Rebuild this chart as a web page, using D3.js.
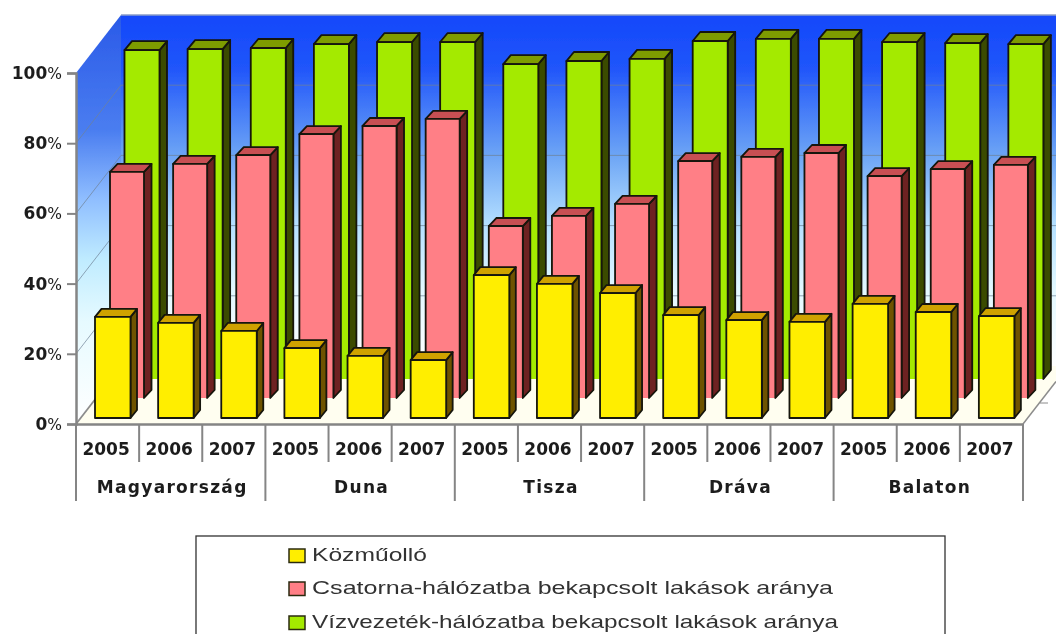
<!DOCTYPE html>
<html>
<head>
<meta charset="utf-8">
<script src="https://cdn.jsdelivr.net/npm/d3@7"></script>
<style>
html, body { margin: 0; padding: 0; background: #fff; overflow: hidden; }
svg { display: block; }
</style>
</head>
<body>
<div id="canvas"></div>
<script>
var regions = ['Magyarország', 'Duna', 'Tisza', 'Dráva', 'Balaton'];
var years = ['2005', '2006', '2007'];
var yTicks = [0, 20, 40, 60, 80, 100];
var seriesNames = ['Közműolló', 'Csatorna-hálózatba bekapcsolt lakások aránya', 'Vízvezeték-hálózatba bekapcsolt lakások aránya'];

var kozmuollo = [28.8, 27.1, 24.8, 19.9, 17.7, 16.5, 40.7, 38.2, 35.6, 29.3, 27.9, 27.4, 32.5, 30.2, 29.0];
var csatorna = [64.4, 66.7, 69.2, 75.2, 77.5, 79.5, 49.0, 51.9, 55.3, 67.5, 68.7, 69.8, 63.2, 65.2, 66.4];
var vizvezetek = [93.7, 94.0, 94.3, 95.4, 96.0, 96.0, 89.7, 90.6, 91.2, 96.3, 96.9, 96.9, 96.0, 95.7, 95.4];

var width = 1056, height = 634;
var left = 76, right = 1023, bottom = 424, top100 = 73;
var wallDx = 45, wallDy = 58;

var svg = d3.select('#canvas').append('svg')
    .attr('width', width)
    .attr('height', height);

var defs = svg.append('defs');
defs.append('filter').attr('id', 'soft')
    .attr('filterUnits', 'userSpaceOnUse')
    .attr('x', 0).attr('y', 0).attr('width', width).attr('height', height)
    .append('feGaussianBlur').attr('stdDeviation', 0.6);

function wallGradient(id, stops) {
    var g = defs.append('linearGradient').attr('id', id)
        .attr('x1', 0).attr('y1', 0).attr('x2', 0).attr('y2', 1);
    stops.forEach(function (s) {
        g.append('stop').attr('offset', s[0]).attr('stop-color', s[1]);
    });
}
wallGradient('sideWall', [[0, '#2a5ae8'], [0.28, '#4a7df0'], [0.45, '#8fbeff'], [0.6, '#c0ecff'], [0.75, '#e6faff'], [1, '#ffffff']]);
wallGradient('backWall', [[0, '#1448fa'], [0.15, '#2055fa'], [0.4, '#6da5f5'], [0.6, '#b5e0ff'], [0.78, '#e2f8ff'], [1, '#ffffff']]);

var root = svg.append('g').attr('filter', 'url(#soft)');

var y = d3.scaleLinear().domain([0, 100]).range([bottom, top100]);

var labels = [];
regions.forEach(function (r) {
    years.forEach(function (yr) { labels.push(r + '|' + yr); });
});
var x = d3.scaleBand().domain(labels).range([left, right]);
var xGroup = d3.scaleBand().domain(regions).range([left, right]);

function pts(a) {
    return a.map(function (p) { return p.join(','); }).join(' ');
}

// walls and floor
root.append('polygon')
    .attr('points', pts([[left, y(100)], [left + wallDx, y(100) - wallDy], [left + wallDx, y(0) - wallDy], [left, y(0)]]))
    .attr('fill', 'url(#sideWall)');
root.append('rect')
    .attr('x', left + wallDx).attr('y', y(100) - wallDy)
    .attr('width', width - left - wallDx).attr('height', y(0) - y(100))
    .attr('fill', 'url(#backWall)');
root.append('polygon')
    .attr('points', pts([[left, y(0)], [right, y(0)], [right + wallDx, y(0) - wallDy], [left + wallDx, y(0) - wallDy]]))
    .attr('fill', '#fffef0');
root.append('line')
    .attr('x1', left + wallDx).attr('x2', width)
    .attr('y1', y(100) - wallDy).attr('y2', y(100) - wallDy)
    .attr('stroke', '#8a9cc8').attr('stroke-width', 1.5);

// gridlines
yTicks.forEach(function (t) {
    if (t === 100 || t === 0) return;
    root.append('polyline')
        .attr('points', pts([[left, y(t)], [left + wallDx, y(t) - wallDy], [width, y(t) - wallDy]]))
        .attr('fill', 'none')
        .attr('stroke', '#6f8296')
        .attr('stroke-width', 1)
        .attr('stroke-opacity', 0.7);
});
root.append('line')
    .attr('x1', left).attr('y1', y(0))
    .attr('x2', left + wallDx).attr('y2', y(0) - wallDy)
    .attr('stroke', '#8c8c8c').attr('stroke-width', 1.8);
root.append('line')
    .attr('x1', right).attr('y1', y(0))
    .attr('x2', width).attr('y2', y(0) - wallDy * (width - right) / wallDx)
    .attr('stroke', '#8c8c8c').attr('stroke-width', 1.5);
root.append('line')
    .attr('x1', right + 17).attr('y1', 403)
    .attr('x2', right + 25).attr('y2', 403)
    .attr('stroke', '#8c8c8c').attr('stroke-width', 1);

// bars, back series first
var seriesStyle = [
    { values: vizvezetek, off: 48.5, base: 45, w: 35, dx: 7.5, dy: 9, closed: false, front: '#a4ea00', top: '#7e9c00', side: '#3a4c00' },
    { values: csatorna, off: 34, base: 26, w: 34, dx: 7.5, dy: 8, closed: false, front: '#ff7f86', top: '#c85052', side: '#6e2020' },
    { values: kozmuollo, off: 19, base: 6, w: 35.5, dx: 6.5, dy: 8, closed: true, front: '#ffee00', top: '#cfa200', side: '#6e5200' }
];

seriesStyle.forEach(function (s) {
    var bars = root.append('g').selectAll('g')
        .data(s.values)
        .enter().append('g')
        .attr('stroke', '#14140a')
        .attr('stroke-width', 1.8)
        .attr('stroke-linejoin', 'round');

    function bx(i) { return x(labels[i]) + s.off; }
    function by0() { return y(0) - s.base; }
    function by(d) { return y(d) - s.base; }

    bars.append('polygon')
        .attr('fill', s.side)
        .attr('points', function (d, i) {
            var r = bx(i) + s.w;
            return pts([[r, by(d)], [r + s.dx, by(d) - s.dy], [r + s.dx, by0() - s.dy], [r, by0()]]);
        });
    bars.append('polygon')
        .attr('fill', s.top)
        .attr('points', function (d, i) {
            var l = bx(i);
            return pts([[l, by(d)], [l + s.dx, by(d) - s.dy], [l + s.w + s.dx, by(d) - s.dy], [l + s.w, by(d)]]);
        });
    // back series have no dark line along the bottom of the front face
    bars.append('path')
        .attr('fill', s.front)
        .attr('d', function (d, i) {
            var l = bx(i), r = l + s.w;
            return 'M' + l + ',' + by0() + 'V' + by(d) + 'H' + r + 'V' + by0() + (s.closed ? 'Z' : '');
        });
});

// y axis
var yAxis = root.append('g')
    .attr('transform', 'translate(' + left + ',0)')
    .call(d3.axisLeft(y).tickValues(yTicks).tickSize(9).tickPadding(5));
yAxis.select('.domain').attr('stroke', '#858585').attr('stroke-width', 2.5);
yAxis.selectAll('.tick line').attr('stroke', '#858585').attr('stroke-width', 2);
yAxis.selectAll('.tick text').each(function (d) {
    var t = d3.select(this).text(null)
        .attr('fill', '#1c1c1c')
        .style('font-family', '"DejaVu Sans"')
        .style('font-size', '17px')
        .style('font-weight', 'bold');
    t.append('tspan').text(d);
    t.append('tspan').text('%').style('font-weight', 'normal').style('font-size', '15.5px');
});

// x axis, two levels
var xAxis = root.append('g')
    .attr('transform', 'translate(0,' + bottom + ')')
    .call(d3.axisBottom(x).tickSize(0).tickPadding(19).tickFormat(function (d) { return d.split('|')[1]; }));
xAxis.select('.domain').attr('stroke', '#858585').attr('stroke-width', 2.5);
xAxis.selectAll('.tick text')
    .attr('fill', '#1c1c1c')
    .attr('dx', -1.5)
    .style('font-family', '"DejaVu Sans"')
    .style('font-size', '17px')
    .style('font-weight', 'bold');

var xAxis2 = root.append('g')
    .attr('transform', 'translate(0,' + bottom + ')')
    .call(d3.axisBottom(xGroup).tickSize(0).tickPadding(57));
xAxis2.select('.domain').remove();
xAxis2.selectAll('.tick text')
    .attr('fill', '#1c1c1c')
    .attr('dx', 1.5)
    .style('font-family', '"DejaVu Sans"')
    .style('font-size', '17px')
    .style('font-weight', 'bold')
    .style('letter-spacing', '1.3px');

root.append('g').selectAll('line')
    .data(d3.range(labels.length + 1))
    .enter().append('line')
    .attr('x1', function (i) { return left + i * x.step(); })
    .attr('x2', function (i) { return left + i * x.step(); })
    .attr('y1', bottom)
    .attr('y2', function (i) { return i % years.length === 0 ? 501 : 462; })
    .attr('stroke', '#858585')
    .attr('stroke-width', 2);

// legend, bottom edge runs past the picture
var legendColors = ['#ffee00', '#ff7f86', '#a4ea00'];
var legendY = [561, 594, 628];
var legendW = [115, 521, 526];
root.append('rect')
    .attr('x', 196).attr('y', 536)
    .attr('width', 749).attr('height', 120)
    .attr('fill', '#fff')
    .attr('stroke', '#333').attr('stroke-width', 1.3);

var legend = root.append('g').selectAll('g')
    .data(seriesNames)
    .enter().append('g');
legend.append('rect')
    .attr('x', 289)
    .attr('y', function (d, i) { return legendY[i] - 12; })
    .attr('width', 16).attr('height', 13.5)
    .attr('fill', function (d, i) { return legendColors[i]; })
    .attr('stroke', '#2a2a10').attr('stroke-width', 1.5);
legend.append('text')
    .attr('x', 312)
    .attr('y', function (d, i) { return legendY[i]; })
    .attr('fill', '#333')
    .attr('textLength', function (d, i) { return legendW[i]; })
    .attr('lengthAdjust', 'spacingAndGlyphs')
    .style('font-family', '"Liberation Sans"')
    .style('font-size', '19px')
    .text(function (d) { return d; });
</script>
</body>
</html>
